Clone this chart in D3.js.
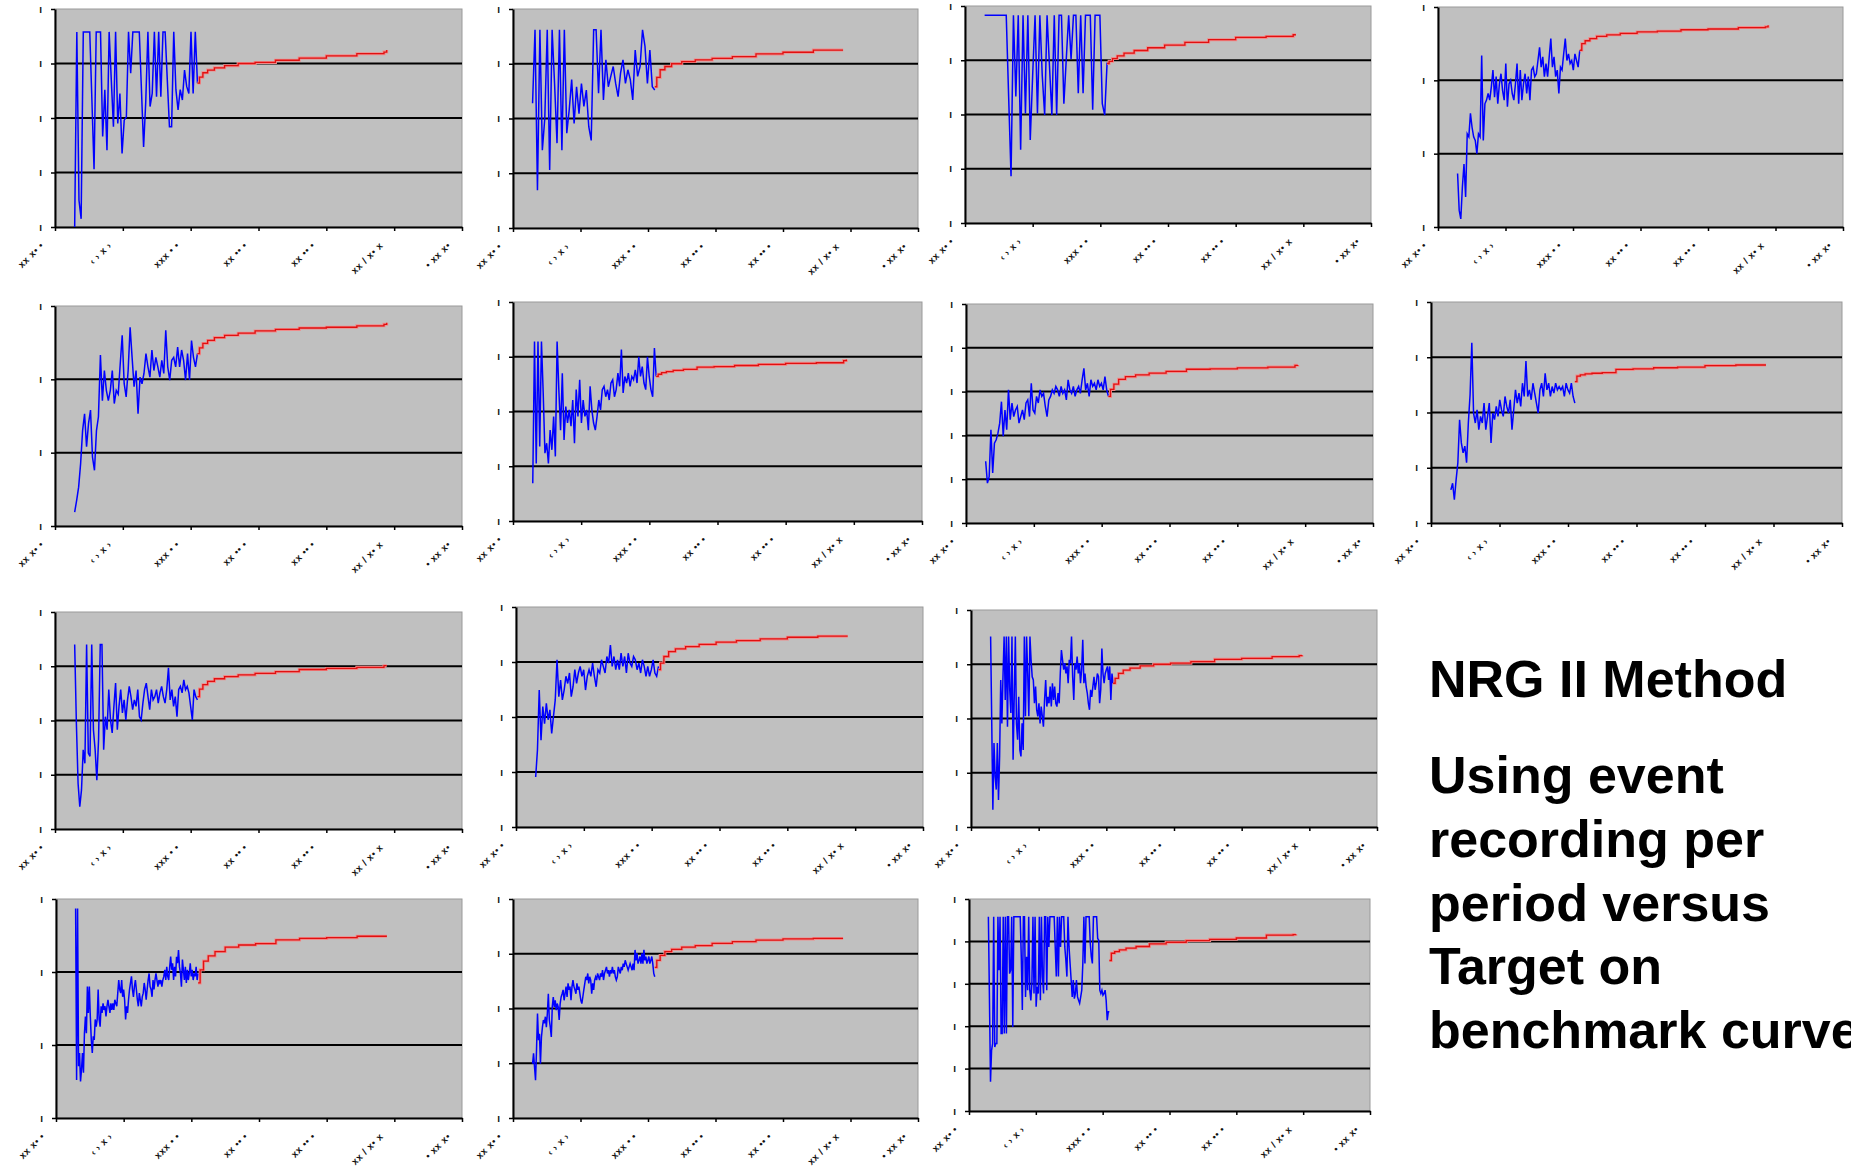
<!DOCTYPE html>
<html>
<head>
<meta charset="utf-8">
<script src="https://cdn.jsdelivr.net/npm/d3@7"></script>
<style>
  html, body { margin: 0; padding: 0; background: #fff; }
  svg { display: block; }
</style>
</head>
<body>
<svg id="chart" width="1851" height="1169"></svg>
<script>
// tick labels are unreadable smudges in the source, kept as short glyph strings
const xTickLabels = ['xx x\u2022 \u2022', '\u2039 \u203a x \u203a', 'xxx \u2022 \u2022', 'xx \u2022\u2022 \u2022', 'xx \u2022\u2022 \u2022', 'xx / x\u2022 x', '\u2022 xx x\u2022']
const yTickLabel = '\u0131'

// blue series span (x in tick units), red target curve x positions
const blueStart = 0.29
const blueEnd = 2.1
const redX = [2.1, 2.13, 2.18, 2.25, 2.35, 2.5, 2.7, 2.95, 3.25, 3.6, 4.0, 4.45, 4.85, 4.89]

// values are in grid bands above the x axis
const blue1 = [0.0, 3.58, 0.49, 0.15, 3.58, 3.58, 3.58, 3.58, 2.33, 1.06, 3.58, 3.58, 3.58, 1.66, 2.52, 1.41, 3.58, 2.7, 1.84, 3.58, 1.9, 2.45, 1.35, 1.96, 2.02, 3.58, 2.82, 3.58, 3.58, 3.58, 3.58, 2.52, 1.47, 2.3, 3.58, 2.21, 2.45, 3.58, 2.39, 3.58, 2.39, 3.58, 3.58, 2.7, 1.84, 1.84, 3.58, 2.52, 2.15, 2.52, 2.33, 2.88, 2.58, 2.45, 3.58, 2.45, 3.58, 2.64]
const red1 = [2.64, 2.75, 2.83, 2.88, 2.92, 2.96, 3.0, 3.02, 3.06, 3.1, 3.14, 3.18, 3.21, 3.25]

const blue2 = [2.28, 3.62, 0.69, 3.62, 1.42, 2.0, 3.62, 1.06, 3.62, 2.64, 1.55, 3.62, 1.42, 3.62, 1.73, 2.16, 2.71, 1.91, 2.58, 2.09, 2.64, 2.22, 2.52, 1.85, 1.6, 3.62, 3.62, 2.46, 3.62, 2.34, 3.07, 2.58, 2.77, 2.95, 2.64, 2.4, 2.83, 3.07, 2.64, 2.89, 2.71, 2.34, 3.25, 2.77, 2.95, 3.62, 3.32, 2.64, 3.25, 2.58, 2.52]
const red2 = [2.58, 2.75, 2.89, 2.95, 3.0, 3.04, 3.07, 3.1, 3.13, 3.18, 3.21, 3.25, 3.25, 3.25]

const blue3 = [3.83, 3.83, 3.83, 3.83, 3.83, 3.83, 3.83, 3.83, 3.83, 3.83, 2.33, 0.86, 3.83, 2.33, 3.83, 1.35, 3.83, 2.02, 3.83, 1.53, 2.72, 3.83, 2.02, 3.83, 2.72, 1.99, 3.83, 2.9, 1.99, 3.83, 1.99, 3.83, 3.83, 2.2, 3.02, 3.83, 3.02, 3.83, 3.83, 2.39, 3.83, 2.39, 3.83, 3.83, 3.83, 2.09, 3.83, 3.83, 3.83, 2.2, 1.99, 2.96]
const red3 = [2.94, 2.98, 3.03, 3.08, 3.13, 3.18, 3.23, 3.28, 3.33, 3.38, 3.42, 3.44, 3.47, 3.47]

const blue4 = [0.73, 0.23, 0.11, 0.55, 0.86, 0.41, 1.27, 1.23, 1.55, 1.36, 1.23, 1.18, 1.0, 1.27, 1.23, 2.34, 1.18, 1.68, 1.73, 1.82, 1.73, 1.91, 2.14, 1.77, 2.05, 1.68, 1.95, 2.09, 1.86, 1.73, 2.23, 1.64, 1.95, 2.0, 1.82, 1.73, 1.95, 2.23, 1.68, 2.14, 1.73, 1.95, 2.09, 1.82, 2.05, 1.73, 2.14, 2.18, 2.05, 2.09, 2.27, 2.45, 2.18, 2.32, 2.05, 2.23, 2.05, 2.32, 2.57, 2.18, 2.32, 2.05, 2.14, 1.82, 2.18, 2.14, 2.36, 2.57, 2.27, 2.36, 2.23, 2.27, 2.14, 2.36, 2.27, 2.18, 2.41]
const red4 = [2.41, 2.5, 2.54, 2.57, 2.6, 2.62, 2.64, 2.66, 2.67, 2.69, 2.7, 2.72, 2.73, 2.75]

const blue5 = [0.19, 0.35, 0.53, 0.85, 1.3, 1.53, 1.08, 1.4, 1.58, 0.94, 0.76, 1.3, 1.49, 2.33, 1.71, 2.12, 1.85, 1.71, 1.85, 2.12, 1.67, 1.85, 1.8, 2.21, 2.6, 1.94, 1.76, 2.12, 2.71, 2.3, 1.9, 2.12, 1.53, 2.03, 1.94, 2.08, 2.35, 2.17, 2.03, 2.4, 2.12, 2.3, 2.17, 2.03, 2.26, 2.08, 2.67, 2.17, 1.99, 2.26, 2.3, 2.17, 2.44, 2.17, 2.4, 2.26, 1.99, 2.35, 1.99, 2.53, 2.3, 2.17, 2.35]
const red5 = [2.35, 2.43, 2.49, 2.53, 2.57, 2.6, 2.63, 2.66, 2.68, 2.7, 2.71, 2.73, 2.75, 2.77]

const blue6 = [0.69, 3.28, 1.05, 3.28, 1.36, 3.28, 2.34, 1.24, 1.42, 1.05, 1.66, 1.3, 1.91, 1.18, 3.28, 2.4, 1.66, 2.7, 1.48, 2.09, 1.79, 2.03, 1.73, 2.21, 1.42, 2.4, 1.91, 2.58, 1.79, 2.21, 1.91, 2.03, 1.66, 2.46, 2.03, 1.79, 1.66, 1.91, 2.21, 2.03, 2.4, 2.46, 2.27, 2.4, 2.21, 2.52, 2.58, 2.27, 2.4, 2.7, 2.46, 3.13, 2.34, 2.64, 2.52, 2.7, 2.46, 2.64, 2.58, 2.76, 2.52, 3.0, 2.64, 2.82, 2.52, 2.4, 3.0, 2.64, 2.4, 2.27, 3.16, 2.64]
const red6 = [2.64, 2.68, 2.71, 2.73, 2.75, 2.77, 2.81, 2.82, 2.84, 2.86, 2.88, 2.89, 2.93, 2.95]

const blue7 = [1.41, 0.91, 1.06, 2.13, 1.14, 1.82, 1.9, 2.05, 2.28, 2.77, 1.98, 2.58, 2.13, 3.04, 2.36, 2.74, 2.43, 2.58, 2.66, 2.28, 2.43, 2.58, 2.36, 2.74, 2.81, 2.43, 3.19, 2.58, 2.51, 2.89, 2.74, 3.04, 2.89, 2.96, 2.66, 2.43, 2.81, 2.89, 3.04, 2.96, 3.12, 3.04, 2.89, 3.12, 2.96, 3.04, 2.81, 3.27, 3.04, 2.96, 3.12, 2.89, 3.04, 3.12, 2.96, 3.27, 3.53, 3.04, 3.19, 2.89, 3.27, 3.12, 3.19, 3.04, 3.27, 3.12, 3.19, 3.04, 3.34, 3.04, 2.89]
const red7 = [2.89, 3.05, 3.17, 3.28, 3.34, 3.38, 3.42, 3.46, 3.51, 3.52, 3.54, 3.56, 3.6, 3.61]

const blue8 = [0.6, 0.72, 0.42, 0.78, 1.09, 1.87, 1.45, 1.27, 1.39, 1.09, 1.81, 2.32, 3.26, 1.99, 1.81, 2.05, 1.69, 1.93, 1.81, 2.17, 1.69, 1.93, 2.17, 1.45, 1.99, 1.87, 2.11, 1.93, 2.23, 2.05, 1.93, 2.29, 2.11, 1.99, 2.23, 1.69, 2.05, 2.41, 2.17, 2.35, 2.11, 2.53, 2.29, 2.93, 2.29, 2.41, 2.23, 2.53, 2.35, 2.17, 1.99, 2.41, 2.53, 2.29, 2.71, 2.41, 2.53, 2.29, 2.47, 2.35, 2.53, 2.41, 2.47, 2.41, 2.47, 2.29, 2.53, 2.41, 2.35, 2.53, 2.29, 2.17]
const red8 = [2.56, 2.66, 2.68, 2.7, 2.71, 2.72, 2.78, 2.79, 2.81, 2.82, 2.85, 2.86, 2.86, 2.86]

const blue9 = [3.4, 1.95, 0.84, 0.41, 0.72, 1.46, 1.21, 3.4, 1.4, 1.34, 3.4, 1.83, 1.46, 0.9, 1.64, 3.4, 3.4, 1.46, 2.07, 1.83, 2.57, 2.01, 1.77, 2.26, 2.69, 1.83, 2.26, 2.57, 2.14, 2.38, 2.01, 2.38, 2.63, 2.44, 2.2, 2.38, 2.26, 2.57, 2.07, 2.01, 2.32, 2.57, 2.69, 2.44, 2.2, 2.57, 2.38, 2.44, 2.57, 2.32, 2.51, 2.63, 2.44, 2.32, 2.57, 2.97, 2.38, 2.57, 2.26, 2.44, 2.07, 2.57, 2.63, 2.51, 2.75, 2.57, 2.63, 2.51, 2.26, 2.01, 2.57, 2.44, 2.38]
const red9 = [2.44, 2.58, 2.66, 2.72, 2.77, 2.81, 2.84, 2.87, 2.9, 2.94, 2.96, 2.98, 3.01, 3.01]

const blue10 = [0.91, 1.4, 2.49, 1.58, 2.19, 1.88, 2.25, 1.95, 2.13, 1.7, 2.01, 2.31, 3.04, 2.37, 2.67, 2.31, 2.49, 2.74, 2.61, 2.8, 2.37, 2.55, 2.86, 2.61, 2.8, 2.92, 2.74, 2.86, 2.49, 2.74, 2.86, 2.74, 2.98, 2.74, 2.55, 2.86, 2.8, 3.04, 2.92, 2.8, 3.1, 2.98, 3.31, 2.92, 3.1, 2.86, 3.04, 2.86, 3.16, 2.92, 3.1, 2.8, 3.16, 2.98, 2.92, 3.1, 3.04, 2.86, 2.98, 2.8, 3.04, 2.92, 2.74, 2.92, 2.74, 2.86, 3.04, 2.8, 2.74, 2.92]
const red10 = [2.86, 2.98, 3.1, 3.19, 3.24, 3.28, 3.32, 3.36, 3.39, 3.42, 3.45, 3.47, 3.47, 3.47]

const blue11 = [3.51, 1.91, 0.32, 1.55, 0.93, 0.69, 1.55, 0.5, 1.3, 2.71, 1.91, 2.77, 3.51, 2.34, 3.51, 1.85, 3.51, 2.53, 2.1, 3.51, 1.24, 2.4, 3.51, 1.91, 1.61, 2.4, 1.42, 1.3, 1.91, 1.42, 3.51, 2.04, 3.51, 2.83, 2.04, 3.51, 3.08, 2.77, 2.71, 2.28, 2.59, 2.16, 2.04, 2.28, 1.91, 2.22, 2.04, 1.85, 2.34, 2.71, 2.22, 2.4, 2.28, 2.59, 2.22, 2.65, 2.34, 2.59, 2.28, 2.22, 2.47, 2.28, 2.83, 3.26, 3.08, 2.9, 3.02, 2.83, 2.96, 2.65, 3.08, 3.02, 3.51, 2.77, 2.34, 3.02, 2.9, 3.14, 2.83, 3.02, 2.65, 2.9, 3.45, 2.65, 2.83, 2.59, 2.47, 2.28, 2.16, 2.53, 2.4, 2.59, 2.77, 2.53, 2.65, 2.83, 2.77, 2.28, 2.53, 3.29, 2.83, 2.65, 2.83, 2.9, 2.96, 2.71, 2.96, 2.34, 2.83, 2.65]
const red11 = [2.65, 2.74, 2.83, 2.89, 2.93, 2.97, 3.0, 3.02, 3.05, 3.09, 3.11, 3.14, 3.16, 3.17]

const blue12 = [2.87, 0.52, 2.87, 0.71, 0.89, 0.5, 0.66, 0.89, 0.62, 1.16, 1.39, 1.16, 1.8, 1.44, 1.8, 1.39, 1.07, 0.89, 1.12, 1.07, 1.35, 1.25, 1.35, 1.76, 1.35, 1.25, 1.53, 1.44, 1.57, 1.48, 1.53, 1.39, 1.53, 1.62, 1.53, 1.44, 1.57, 1.48, 1.57, 1.48, 1.62, 1.57, 1.53, 1.71, 1.89, 1.76, 1.71, 1.89, 1.66, 1.76, 1.62, 1.35, 1.53, 1.44, 1.62, 1.76, 1.85, 1.94, 1.76, 1.66, 1.8, 1.89, 1.76, 1.62, 1.53, 1.71, 1.62, 1.53, 1.66, 1.71, 1.85, 1.76, 1.62, 1.76, 1.89, 1.98, 1.8, 1.76, 1.66, 1.89, 1.76, 1.89, 1.98, 1.89, 1.8, 1.89, 1.85, 1.89, 1.8, 1.89, 1.94, 2.03, 1.89, 2.07, 1.94, 1.89, 2.07, 2.21, 2.03, 2.12, 1.89, 2.07, 1.94, 2.21, 2.12, 2.3, 2.07, 1.98, 1.8, 2.17, 2.03, 1.89, 2.07, 1.85, 2.03, 1.89, 1.98, 2.12, 1.94, 2.03, 1.89, 1.98, 1.94, 2.07, 1.89, 1.98]
const red12 = [1.85, 2.03, 2.15, 2.22, 2.28, 2.34, 2.37, 2.39, 2.44, 2.46, 2.47, 2.49, 2.49, 2.49]

const blue13 = [0.99, 1.18, 0.93, 0.69, 1.24, 1.91, 1.42, 1.54, 0.99, 1.48, 1.66, 1.79, 1.73, 1.85, 1.66, 1.91, 2.27, 1.79, 1.66, 1.48, 2.03, 2.21, 2.03, 2.15, 1.97, 2.09, 2.03, 1.79, 2.09, 2.21, 2.27, 2.34, 2.15, 2.27, 2.4, 2.21, 2.46, 2.34, 2.4, 2.15, 2.4, 2.52, 2.4, 2.34, 2.27, 2.46, 2.34, 2.4, 2.27, 2.15, 2.09, 2.21, 2.34, 2.46, 2.58, 2.52, 2.64, 2.46, 2.58, 2.52, 2.27, 2.46, 2.34, 2.52, 2.58, 2.52, 2.64, 2.58, 2.52, 2.64, 2.58, 2.7, 2.52, 2.64, 2.7, 2.76, 2.64, 2.7, 2.58, 2.7, 2.64, 2.76, 2.64, 2.7, 2.58, 2.52, 2.58, 2.76, 2.7, 2.64, 2.76, 2.7, 2.82, 2.76, 2.88, 2.82, 2.76, 2.7, 2.76, 2.82, 2.76, 2.7, 2.82, 2.7, 3.07, 2.88, 3.01, 2.82, 2.88, 2.95, 2.82, 3.01, 2.82, 3.07, 2.88, 2.95, 2.82, 2.88, 2.95, 2.82, 2.88, 2.95, 2.82, 2.64, 2.58]
const red13 = [2.75, 2.88, 2.97, 3.04, 3.08, 3.12, 3.15, 3.19, 3.22, 3.25, 3.27, 3.28, 3.28, 3.28]

const blue14 = [4.58, 2.65, 0.69, 1.43, 1.59, 4.58, 1.51, 1.59, 1.59, 4.58, 3.32, 4.58, 1.83, 1.83, 4.58, 1.83, 4.58, 1.83, 4.58, 4.58, 3.24, 3.32, 4.58, 1.98, 4.58, 4.58, 4.58, 4.58, 4.58, 4.58, 4.58, 3.64, 2.38, 4.58, 4.58, 2.69, 3.64, 2.85, 4.58, 2.85, 2.61, 3.01, 4.58, 2.77, 4.58, 2.46, 2.93, 2.77, 4.58, 2.61, 4.58, 3.17, 2.77, 4.58, 4.58, 2.85, 4.58, 3.87, 4.58, 4.58, 4.58, 4.58, 4.58, 3.87, 3.17, 4.58, 3.17, 4.58, 3.87, 4.58, 4.58, 4.58, 3.87, 3.56, 3.17, 4.58, 3.87, 3.48, 3.09, 2.69, 3.09, 2.65, 2.77, 3.09, 2.69, 2.61, 2.54, 2.69, 2.85, 3.48, 4.58, 3.48, 4.58, 4.58, 4.58, 4.58, 3.96, 3.64, 3.48, 4.58, 4.58, 4.58, 4.58, 4.07, 4.03, 2.85, 2.77, 2.85, 2.73, 2.77, 2.85, 2.61, 2.14, 2.34, 2.34]
const red14 = [3.55, 3.72, 3.76, 3.8, 3.84, 3.88, 3.94, 3.98, 4.02, 4.05, 4.08, 4.15, 4.16, 4.17]

const titleLine = 'NRG II Method'
const noteLines = ['Using event', 'recording per', 'period versus', 'Target on', 'benchmark curve']

// plot-area boxes [left, top, right, bottom] and number of grid bands
const panels = [
  { box: [55, 9, 462, 227], bands: 4, blue: blue1, red: red1 },
  { box: [513, 9, 918, 228], bands: 4, blue: blue2, red: red2 },
  { box: [965, 6, 1371, 223], bands: 4, blue: blue3, red: red3 },
  { box: [1438, 7, 1843, 227], bands: 3, blue: blue4, red: red4 },
  { box: [55, 306, 462, 526], bands: 3, blue: blue5, red: red5 },
  { box: [513, 302, 922, 521], bands: 4, blue: blue6, red: red6 },
  { box: [966, 304, 1373, 523], bands: 5, blue: blue7, red: red7 },
  { box: [1431, 302, 1842, 523], bands: 4, blue: blue8, red: red8 },
  { box: [55, 612, 462, 829], bands: 4, blue: blue9, red: red9 },
  { box: [516, 607, 923, 827], bands: 4, blue: blue10, red: red10 },
  { box: [971, 610, 1377, 827], bands: 4, blue: blue11, red: red11 },
  { box: [56, 899, 462, 1118], bands: 3, blue: blue12, red: red12 },
  { box: [513, 899, 918, 1118], bands: 4, blue: blue13, red: red13 },
  { box: [969, 899, 1370, 1111], bands: 5, blue: blue14, red: red14 },
]

const svg = d3.select('#chart')
svg.append('rect').attr('width', 1851).attr('height', 1169).attr('fill', '#fff')

panels.forEach(p => drawPanel(svg, p))

function drawPanel(root, p) {
  let [l, t, r, b] = p.box
  let g = root.append('g')
  let x = d3.scaleLinear().domain([0, 6]).range([l, r])
  let y = d3.scaleLinear().domain([0, p.bands]).range([b, t])

  g.append('rect')
    .attr('x', l).attr('y', t)
    .attr('width', r - l).attr('height', b - t)
    .attr('fill', '#c0c0c0')
    .attr('stroke', '#9a9a9a')
    .attr('stroke-width', 1)

  // horizontal grid
  g.selectAll('line.grid')
    .data(d3.range(1, p.bands))
    .join('line')
    .attr('class', 'grid')
    .attr('x1', l).attr('x2', r)
    .attr('y1', d => y(d)).attr('y2', d => y(d))
    .attr('stroke', '#000')
    .attr('stroke-width', 2)

  let yAxis = d3.axisLeft(y)
    .tickValues(d3.range(0, p.bands + 1))
    .tickFormat(() => yTickLabel)
    .tickSize(4)
    .tickSizeOuter(0)
    .tickPadding(9)
  let ya = g.append('g').attr('transform', `translate(${l},0)`).call(yAxis)
  ya.select('.domain').attr('stroke', '#000').attr('stroke-width', 2)
  ya.selectAll('.tick line').attr('stroke', '#000').attr('stroke-width', 1.5)
  ya.selectAll('text')
    .attr('font-family', 'Liberation Sans, Arial, sans-serif')
    .attr('font-weight', 'bold')
    .attr('font-size', 10)
    .attr('fill', '#111')

  let xAxis = d3.axisBottom(x)
    .tickValues(d3.range(0, 7))
    .tickFormat(i => xTickLabels[i])
    .tickSize(4)
    .tickSizeOuter(0)
  let xa = g.append('g').attr('transform', `translate(0,${b})`).call(xAxis)
  xa.select('.domain').attr('stroke', '#000').attr('stroke-width', 2)
  xa.selectAll('.tick line').attr('stroke', '#000').attr('stroke-width', 1.5)
  xa.selectAll('text')
    .attr('x', 0).attr('y', 0).attr('dy', 0)
    .attr('text-anchor', 'end')
    .attr('transform', 'translate(-11,19) rotate(-45)')
    .attr('font-family', 'Liberation Sans, Arial, sans-serif')
    .attr('font-weight', 'bold')
    .attr('font-size', 9.5)
    .attr('letter-spacing', 0.6)
    .attr('fill', '#111')

  // actual events per period
  let bx = d3.scaleLinear().domain([0, p.blue.length - 1]).range([x(blueStart), x(blueEnd)])
  let blueLine = d3.line()
    .x((d, i) => bx(i))
    .y(d => y(d))
  g.append('path')
    .attr('d', blueLine(p.blue))
    .attr('fill', 'none')
    .attr('stroke', '#0000ff')
    .attr('stroke-width', 1.5)

  // benchmark target curve, soft halo under a thin red core
  let redLine = d3.line()
    .x((d, i) => x(redX[i]))
    .y(d => y(d))
    .curve(d3.curveStepAfter)
  g.append('path')
    .attr('d', redLine(p.red))
    .attr('fill', 'none')
    .attr('stroke', '#f08a8a')
    .attr('stroke-width', 3)
  g.append('path')
    .attr('d', redLine(p.red))
    .attr('fill', 'none')
    .attr('stroke', '#e01010')
    .attr('stroke-width', 1.3)
}

let txt = svg.append('g')
  .attr('font-family', 'Liberation Sans, Arial, sans-serif')
  .attr('font-weight', 'bold')
  .attr('font-size', 52)
  .attr('fill', '#000')
txt.append('text')
  .attr('x', 1429).attr('y', 697)
  .text(titleLine)
txt.selectAll('text.note')
  .data(noteLines)
  .join('text')
  .attr('class', 'note')
  .attr('x', 1429)
  .attr('y', (d, i) => 793 + i * 63.8)
  .text(d => d)
</script>
</body>
</html>
